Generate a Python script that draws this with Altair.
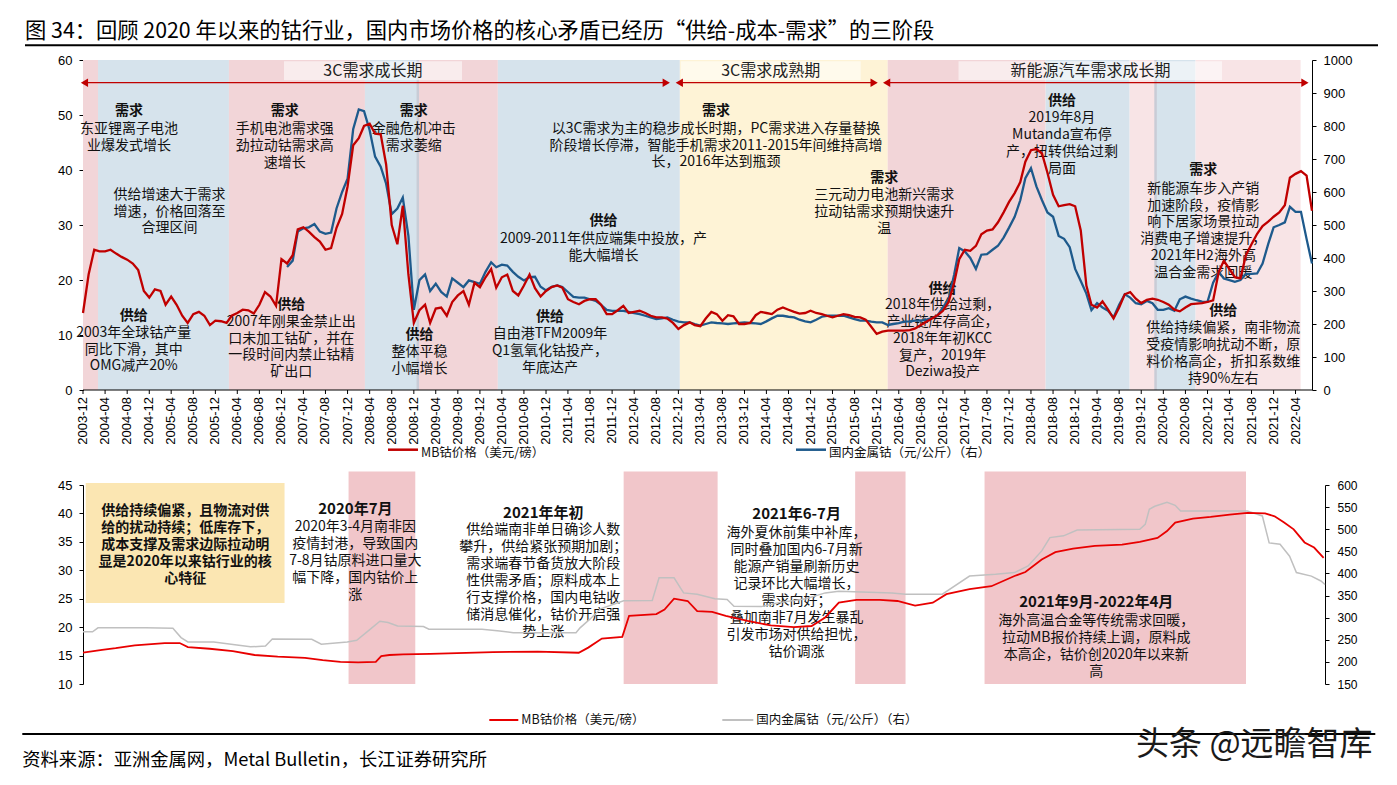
import altair as alt
import pandas as pd

# ===================== DATA =====================
# Top panel: monthly values starting 2003-12
mb_price_monthly = [
    14.0,
    21.0, 25.5, 25.2, 25.2, 25.5, 24.8, 24.2, 23.7, 23.0, 21.8, 18.0, 16.8,
    18.3, 18.0, 15.5, 17.0, 15.5, 13.5, 12.2, 13.8, 14.2, 13.5, 11.8, 12.6,
    12.5, 12.2, 13.5, 14.0, 14.6, 14.5, 13.9, 15.5, 17.8, 17.0, 15.3, 23.8,
    23.0, 24.5, 29.2, 29.6, 28.8, 27.8, 27.0, 25.5, 25.8, 29.5, 32.0, 37.0,
    44.5, 45.8, 48.0, 48.4, 46.6, 46.5, 41.0, 30.0, 26.5, 33.5, 21.0, 12.2,
    14.5, 15.5, 12.2, 14.8, 15.0, 13.5, 16.0, 17.2, 18.0, 15.5, 19.5, 18.7,
    20.5, 22.0, 18.6, 20.5, 21.0, 18.0, 17.2, 19.0, 21.0, 18.5, 17.0, 18.0,
    18.7, 19.0, 18.6, 16.5, 16.0, 15.6, 16.2, 16.5, 16.5, 15.5, 13.8, 13.8,
    14.5, 15.3, 14.0, 14.2, 14.4, 14.0, 13.5, 13.2, 13.2, 13.0, 12.2, 11.1,
    11.8, 12.3, 11.8, 11.6, 13.0, 14.2, 13.8, 12.6, 13.6, 13.4, 12.0, 12.0,
    12.2, 13.6, 14.2, 14.0, 13.8, 14.6, 15.0, 14.6, 14.2, 13.9, 14.0, 14.4,
    14.0, 13.8, 13.5, 13.2, 13.5, 13.8, 13.6, 13.3, 13.2, 12.8, 11.5, 10.2,
    10.6, 10.8, 10.8, 10.8, 10.8, 10.9, 11.2, 11.8, 12.4, 13.0, 13.6, 14.4,
    16.0, 19.5, 23.8, 25.5, 25.3, 26.2, 28.3, 29.0, 29.2, 30.5, 32.3, 34.2,
    35.8, 37.8, 41.5, 43.6, 43.8, 43.0, 39.5, 35.5, 33.4, 33.6, 33.8, 33.4,
    29.0, 19.0, 15.5, 15.0, 16.1, 14.6, 13.0, 15.0, 17.4, 17.8, 16.6, 15.8,
    16.4, 16.6, 16.4, 16.0, 15.5, 14.6, 14.3, 15.0, 15.6, 15.7, 15.8, 16.0,
    16.3, 21.5, 23.5, 22.0, 20.5, 20.3, 24.5, 26.5, 28.4, 29.8, 30.6, 31.5,
    32.3, 33.6, 38.6, 39.3, 39.8, 39.0, 32.6,
]
# domestic metal cobalt, monthly starting 2007-01 (yuan/kg)
dom_metal_monthly = [
    373, 392, 480, 490, 493, 503, 480, 473, 477, 550, 600, 640,
    790, 850, 845, 787, 707, 677, 625, 533, 550, 583, 467, 243,
    333, 350, 300, 322, 297, 283, 338, 325, 312, 332, 327, 322,
    358, 387, 372, 380, 377, 358, 343, 332, 342, 343, 313, 302,
    313, 317, 312, 297, 282, 280, 280, 275, 270, 258, 243, 240,
    240, 240, 237, 233, 230, 225, 220, 215, 217, 220, 213, 207,
    205, 205, 200, 195, 200, 205, 203, 202, 200, 202, 203, 205,
    203, 202, 200, 208, 217, 225, 225, 222, 220, 213, 208, 205,
    213, 222, 225, 225, 225, 225, 220, 215, 210, 210, 207, 205,
    205, 197, 200, 203, 207, 208, 210, 210, 213, 218, 225, 250,
    275, 350, 430, 420, 400, 367, 410, 412, 425, 437, 462, 492,
    525, 575, 642, 672, 617, 575, 538, 525, 467, 458, 433, 367,
    330, 292, 242, 263, 250, 240, 220, 258, 290, 280, 263, 260,
    270, 263, 243, 243, 248, 240, 275, 283, 277, 272, 268, 267,
    325, 358, 338, 333, 328, 333, 352, 352, 353, 383, 442, 493,
    500, 508, 555, 540, 540, 458, 383,
]
top_tick_labels = [
    "2003-12", "2004-04", "2004-08", "2004-12", "2005-04", "2005-08", "2005-12",
    "2006-04", "2006-08", "2006-12", "2007-04", "2007-08", "2007-12",
    "2008-04", "2008-08", "2008-12", "2009-04", "2009-08", "2009-12",
    "2010-04", "2010-08", "2010-12", "2011-04", "2011-08", "2011-12",
    "2012-04", "2012-08", "2012-12", "2013-04", "2013-08", "2013-12",
    "2014-04", "2014-08", "2014-12", "2015-04", "2015-08", "2015-12",
    "2016-04", "2016-08", "2016-12", "2017-04", "2017-08", "2017-12",
    "2018-04", "2018-08", "2018-12", "2019-04", "2019-08", "2019-12",
    "2020-04", "2020-08", "2020-12", "2021-04", "2021-08", "2021-12", "2022-04",
]

# Bottom panel: MB price (USD/lb)
mb_b_dates = [
    "2020-01-01", "2020-01-15", "2020-01-25", "2020-02-08", "2020-03-01", "2020-03-12",
    "2020-03-18", "2020-04-03", "2020-04-20", "2020-05-06", "2020-05-23", "2020-06-12",
    "2020-06-25", "2020-07-08", "2020-07-21", "2020-08-03", "2020-08-07", "2020-08-13",
    "2020-08-23", "2020-09-12", "2020-10-28", "2020-11-30", "2020-12-30", "2021-01-06",
    "2021-01-16", "2021-01-31", "2021-02-05", "2021-02-25", "2021-03-03", "2021-03-10",
    "2021-03-20", "2021-03-27", "2021-04-07", "2021-04-17", "2021-05-03", "2021-05-20",
    "2021-06-06", "2021-06-19", "2021-06-29", "2021-07-09", "2021-07-22", "2021-08-08",
    "2021-08-21", "2021-09-03", "2021-09-16", "2021-09-26", "2021-10-13", "2021-10-29",
    "2021-11-15", "2021-11-23", "2021-12-05", "2021-12-15", "2021-12-28", "2022-01-13",
    "2022-02-02", "2022-02-15", "2022-02-28", "2022-03-07", "2022-03-13", "2022-03-26",
    "2022-04-08", "2022-04-22", "2022-05-05", "2022-05-18", "2022-05-25", "2022-06-01",
    "2022-06-08", "2022-06-16", "2022-06-23", "2022-06-30",
]
mb_b_values = [
    15.5, 16.0, 16.3, 16.8, 17.2, 17.2,
    16.5, 16.2, 15.8, 15.1, 14.8, 14.6,
    14.2, 13.9, 13.8, 13.9, 14.9, 15.1,
    15.2, 15.3, 15.6, 15.7, 15.5, 16.4,
    18.0, 18.3, 22.0, 22.3, 23.1, 25.0,
    24.6, 22.8, 22.7, 22.0, 21.1, 20.3,
    20.0, 20.2, 21.7, 24.3, 24.8, 24.8,
    24.6, 23.8, 24.3, 25.8, 26.7, 27.2,
    29.0, 29.7, 31.9, 33.2, 33.8, 34.3,
    34.5, 35.0, 35.7, 36.9, 38.4, 39.1,
    39.4, 39.8, 40.1, 40.0, 39.5, 38.4,
    37.2, 34.9, 34.0, 32.2,
]
# Bottom panel: domestic metal cobalt (yuan/kg)
dom_b_dates = [
    "2020-01-01", "2020-01-08", "2020-01-12", "2020-02-16", "2020-03-07", "2020-03-13",
    "2020-03-18", "2020-04-06", "2020-04-23", "2020-05-03", "2020-05-14", "2020-05-19",
    "2020-06-17", "2020-06-24", "2020-07-13", "2020-07-20", "2020-07-30", "2020-08-06",
    "2020-08-12", "2020-08-19", "2020-09-07", "2020-09-11", "2020-10-20", "2020-11-02",
    "2020-11-12", "2020-12-28", "2020-12-31", "2021-01-07", "2021-01-15", "2021-02-01",
    "2021-02-22", "2021-02-27", "2021-03-10", "2021-03-17", "2021-03-27", "2021-04-09",
    "2021-04-18", "2021-04-23", "2021-05-13", "2021-05-26", "2021-06-15", "2021-06-29",
    "2021-07-09", "2021-08-17", "2021-08-27", "2021-09-23", "2021-10-13", "2021-11-01",
    "2021-11-15", "2021-11-25", "2021-12-05", "2021-12-11", "2021-12-21", "2021-12-31",
    "2022-02-15", "2022-02-19", "2022-02-22", "2022-02-26", "2022-03-07", "2022-03-13",
    "2022-03-17", "2022-05-05", "2022-05-16", "2022-05-21", "2022-05-29", "2022-06-05",
    "2022-06-10", "2022-06-21", "2022-06-28", "2022-07-01",
]
dom_b_values = [
    268, 268, 277, 277, 276, 255,
    245, 245, 238, 234, 236, 252,
    251, 240, 245, 249, 274, 292,
    289, 281, 280, 274, 274, 270,
    266, 266, 277, 296, 320, 338,
    339, 390, 390, 356, 353, 343,
    341, 326, 325, 334, 343, 356,
    360, 356, 353, 353, 394, 398,
    402, 417, 451, 481, 485, 498,
    500, 511, 545, 552, 561, 554,
    541, 541, 530, 469, 466, 439,
    402, 394, 383, 375,
]

# Shaded phases (top) and highlight windows (bottom)
top_phase_start = ["2003-12-01", "2004-02-22", "2006-02-14", "2008-03-06", "2008-12-23", "2010-03-10",
                   "2012-12-09", "2016-01-31", "2018-06-21", "2019-09-28", "2020-02-18", "2020-09-26"]
top_phase_end = ["2004-02-22", "2006-02-14", "2008-03-06", "2008-12-23", "2010-03-10", "2012-12-09",
                 "2016-01-31", "2018-06-21", "2019-09-28", "2020-02-18", "2020-09-26", "2022-04-29"]
top_phase_fill = ["#F2D5D8", "#D6E3EC", "#F2D5D8", "#D6E3EC", "#F2D5D8", "#D6E3EC",
                  "#FEF3D6", "#F2D5D8", "#D6E3EC", "#F8E4E6", "#D6E3EC", "#F8E4E6"]
top_phase_seams = ["2008-12-23", "2020-02-18"]
bot_hl_start = ["2020-07-14", "2021-02-01", "2021-07-21", "2021-10-24"]
bot_hl_end = ["2020-09-01", "2021-04-11", "2021-08-27", "2022-05-04"]

stage_labels = ["3C需求成长期", "3C需求成熟期", "新能源汽车需求成长期"]
stage_center = ["2008-04-19", "2014-04-25", "2019-02-24"]
stage_box_start = ["2006-12-15", "2012-12-14", "2017-02-25"]
stage_box_end = ["2009-08-24", "2015-09-04", "2021-02-19"]

# ===================== LAYOUT CONSTANTS =====================
W1, H1 = 1229, 330
X1, Y1 = 80, 59.3
W2, H2 = 1242, 199
X2, Y2 = 82.7, 484
CJK = "Noto Sans CJK SC"
LAT = "Liberation Sans"
RED_T = "#C00000"
BLUE_T = "#1E5A8C"
RED_B = "#E80000"
GRAY_B = "#C0C0C0"


def month_seq(y, m, n):
    out = []
    for i in range(n):
        yy = y + (m - 1 + i) // 12
        mm = (m - 1 + i) % 12 + 1
        out.append(f"{yy:04d}-{mm:02d}-01T00:00:00")
    return out


def t(s):
    return s + "T00:00:00" if len(s) == 10 else s


one = pd.DataFrame({"k": [0]})


def prule(x1, x2, y, color, width, opacity=1.0):
    return alt.Chart(one).mark_rule(color=color, strokeWidth=width, opacity=opacity).encode(
        x=alt.value(x1), x2=alt.value(x2), y=alt.value(y))


def ptext(x, y, s, size, align="left", weight="normal", color="#111", font=CJK):
    return alt.Chart(one).mark_text(font=font, fontSize=size, fontWeight=weight, align=align,
                                    baseline="middle", color=color).encode(
        x=alt.value(x), y=alt.value(y), text=alt.value(s))


# ===================== TOP PANEL =====================
xs_top = alt.Scale(domain=[alt.DateTime(year=2003, month=12, date=1),
                           alt.DateTime(year=2022, month=7, date=1)], nice=False)

mb_df = pd.DataFrame({"d": month_seq(2003, 12, len(mb_price_monthly)), "v": mb_price_monthly})
dom_df = pd.DataFrame({"d": month_seq(2007, 1, len(dom_metal_monthly)), "v": dom_metal_monthly})

reg_df = pd.DataFrame({"s": [t(a) for a in top_phase_start], "e": [t(a) for a in top_phase_end],
                       "f": top_phase_fill})
regions = alt.Chart(reg_df).mark_rect().encode(
    x=alt.X("s:T", scale=xs_top, axis=None), x2="e:T",
    y=alt.value(0), y2=alt.value(H1), color=alt.Color("f:N", scale=None))
seams = alt.Chart(pd.DataFrame({"d": [t(a) for a in top_phase_seams]})).mark_rule(
    color="#C9CCD6", strokeWidth=2.5).encode(
    x=alt.X("d:T", scale=xs_top, axis=None), y=alt.value(0), y2=alt.value(H1))

# x axis of the top panel: ticks + vertical labels placed through the time scale
tick_df = pd.DataFrame({"d": [lab + "-01T00:00:00" for lab in top_tick_labels], "lab": top_tick_labels})
x_ticks = alt.Chart(tick_df).mark_rule(color="black", strokeWidth=1).encode(
    x=alt.X("d:T", scale=xs_top, axis=None), y=alt.value(H1), y2=alt.value(H1 + 4))
x_labels = alt.Chart(tick_df).mark_text(font=LAT, fontSize=13, angle=270, align="right",
                                        baseline="middle", color="black").encode(
    x=alt.X("d:T", scale=xs_top, axis=None), y=alt.value(H1 + 7), text="lab:N")

stage_df = pd.DataFrame({"s": [t(a) for a in stage_box_start], "e": [t(a) for a in stage_box_end],
                         "c": [t(a) for a in stage_center], "lab": stage_labels})
stage_boxes = alt.Chart(stage_df).mark_rect(fill="white", opacity=0.55).encode(
    x=alt.X("s:T", scale=xs_top, axis=None), x2="e:T",
    y=alt.value(60.5 - Y1), y2=alt.value(79.5 - Y1))
stage_text = alt.Chart(stage_df).mark_text(font=CJK, fontSize=16, color="#222", baseline="middle").encode(
    x=alt.X("c:T", scale=xs_top, axis=None), y=alt.value(70 - Y1), text="lab:N")

arrow_df = pd.DataFrame({"s": [t("2003-12-01"), t("2012-12-01"), t("2016-01-20")],
                         "e": [t("2012-10-01"), t("2015-11-25"), t("2022-05-30")]})
arrows = alt.Chart(arrow_df).mark_rule(color=RED_T, strokeWidth=1.2).encode(
    x=alt.X("s:T", scale=xs_top, axis=None), x2="e:T", y=alt.value(82 - Y1))
headL = alt.Chart(pd.DataFrame({"d": [t("2003-12-09"), t("2012-12-06"), t("2016-01-25")]})).mark_point(
    shape="triangle-left", filled=True, size=70, color=RED_T, opacity=1).encode(
    x=alt.X("d:T", scale=xs_top, axis=None), y=alt.value(82 - Y1))
headR = alt.Chart(pd.DataFrame({"d": [t("2012-09-25"), t("2015-11-17"), t("2022-05-23")]})).mark_point(
    shape="triangle-right", filled=True, size=70, color=RED_T, opacity=1).encode(
    x=alt.X("d:T", scale=xs_top, axis=None), y=alt.value(82 - Y1))

top_bold = [
    ("2004-08-11", 109.3, "需求"), ("2004-09-06", 314.3, "供给"),
    ("2006-12-19", 109.3, "需求"), ("2007-01-24", 303.3, "供给"),
    ("2008-11-30", 109.3, "需求"), ("2009-01-01", 333.3, "供给"),
    ("2013-06-27", 109.3, "需求"), ("2011-10-14", 219.0, "供给"),
    ("2010-12-23", 315.0, "供给"), ("2016-01-12", 176.0, "需求"),
    ("2016-11-29", 286.7, "供给"), ("2018-09-19", 99.0, "供给"),
    ("2020-11-08", 168.3, "需求"), ("2021-02-26", 309.3, "供给"),
]
top_body = [
    ("2004-08-11", 126.7, "东亚锂离子电池\n业爆发式增长"),
    ("2005-03-23", 192.7, "供给增速大于需求\n增速，价格回落至\n合理区间"),
    ("2004-09-06", 330.7, "2003年全球钴产量\n同比下滑，其中\nOMG减产20%"),
    ("2006-12-19", 127.0, "手机电池需求强\n劲拉动钴需求高\n速增长"),
    ("2007-01-24", 319.7, "2007年刚果金禁止出\n口未加工钴矿，并在\n一段时间内禁止钴精\n矿出口"),
    ("2008-11-30", 127.0, "金融危机冲击\n需求萎缩"),
    ("2009-01-01", 350.0, "整体平稳\n小幅增长"),
    ("2013-06-27", 126.7, "以3C需求为主的稳步成长时期，PC需求进入存量替换\n阶段增长停滞，智能手机需求2011-2015年间维持高增\n长，2016年达到瓶颈"),
    ("2011-10-14", 236.7, "2009-2011年供应端集中投放，产\n能大幅增长"),
    ("2010-12-23", 332.0, "自由港TFM2009年\nQ1氢氧化钴投产，\n年底达产"),
    ("2016-01-12", 193.0, "三元动力电池新兴需求\n拉动钴需求预期快速升\n温"),
    ("2016-11-29", 303.0, "2018年供给过剩，\n产业链库存高企，\n2018年年初KCC\n复产，2019年\nDeziwa投产"),
    ("2018-09-19", 116.0, "2019年8月\nMutanda宣布停\n产，扭转供给过剩\n局面"),
    ("2020-11-08", 186.7, "新能源车步入产销\n加速阶段，疫情影\n响下居家场景拉动\n消费电子增速提升，\n2021年H2海外高\n温合金需求回暖"),
    ("2021-02-26", 326.0, "供给持续偏紧，南非物流\n受疫情影响扰动不断，原\n料价格高企，折扣系数维\n持90%左右"),
]


def ann_layer(rows, xscale, y0, size, weight, lh):
    df = pd.DataFrame({"d": [t(r[0]) for r in rows],
                       "py": [r[1] - y0 + 0.38 * size for r in rows],
                       "tx": [r[2] for r in rows]})
    return alt.Chart(df).mark_text(font=CJK, fontSize=size, fontWeight=weight, align="center",
                                   baseline="alphabetic", lineBreak="\n", lineHeight=lh,
                                   color="#111").encode(
        x=alt.X("d:T", scale=xscale, axis=None),
        y=alt.Y("py:Q", scale=None, axis=None),
        text="tx:N")


top_bold_layer = ann_layer(top_bold, xs_top, Y1, 14, "bold", 17)
top_body_layer = ann_layer(top_body, xs_top, Y1, 14, "normal", 16.85)

red_top = alt.Chart(mb_df).mark_line(color=RED_T, strokeWidth=2.3).encode(
    x=alt.X("d:T", scale=xs_top, axis=None),
    y=alt.Y("v:Q", scale=alt.Scale(domain=[0, 60], nice=False, zero=False),
            axis=alt.Axis(orient="left", values=list(range(0, 61, 10)), title=None, labelFontSize=13,
                          labelFont=LAT, tickSize=4, labelPadding=7, grid=False, format="d",
                          domainColor="black", tickColor="black", labelColor="black")))
blue_top = alt.Chart(dom_df).mark_line(color=BLUE_T, strokeWidth=2.3).encode(
    x=alt.X("d:T", scale=xs_top, axis=None),
    y=alt.Y("v:Q", scale=alt.Scale(domain=[0, 1000], nice=False, zero=False),
            axis=alt.Axis(orient="right", values=list(range(0, 1001, 100)), title=None, format="d",
                          labelFontSize=13, labelFont=LAT, tickSize=4, labelPadding=7, grid=False,
                          domainColor="black", tickColor="black", labelColor="black")))

top = alt.layer(
    regions, seams, stage_boxes, stage_text, arrows, headL, headR,
    top_body_layer, top_bold_layer, blue_top, red_top,
    prule(0, W1, H1, "black", 1),
    x_ticks, x_labels,
    # legend
    prule(385 - X1, 415 - X1, 449 - Y1, RED_T, 2.5),
    ptext(418 - X1, 452 - Y1, "MB钴价格（美元/磅）", 12.5),
    prule(793 - X1, 823 - X1, 449 - Y1, BLUE_T, 2.5),
    ptext(826 - X1, 452 - Y1, "国内金属钴（元/公斤）（右）", 12.5),
    # figure title + underline
    ptext(22 - X1, 31 - Y1, "图 34：回顾 2020 年以来的钴行业，国内市场价格的核心矛盾已经历“供给-成本-需求”的三阶段", 21.3,
          color="#000"),
    prule(22 - X1, 1375 - X1, 44.5 - Y1, "#000", 2),
    # layout anchors (invisible)
    prule(8 - X1, 9 - X1, 8 - Y1, "#fff", 1, 0),
    prule(8 - X1, 9 - X1, 464 - Y1, "#fff", 1, 0),
).resolve_scale(y="independent").properties(width=W1, height=H1)

# ===================== BOTTOM PANEL =====================
xs_bot = alt.Scale(domain=[alt.DateTime(year=2020, month=1, date=1),
                           alt.DateTime(year=2022, month=7, date=1)], nice=False)
bot_ticks = [alt.DateTime(year=2020 + (2 * i) // 12, month=(2 * i) % 12 + 1, date=1) for i in range(16)]
bot_x_axis = alt.Axis(values=bot_ticks, format="%Y-%m", labelAngle=0, labelFontSize=12, labelFont=LAT,
                      tickSize=4, labelPadding=5, title=None, labelOverlap=False, labelFlush=False,
                      domainColor="black", tickColor="black", labelColor="black", grid=False,
                      zindex=1)

hl_df = pd.DataFrame({"s": [t(a) for a in bot_hl_start], "e": [t(a) for a in bot_hl_end]})
hl = alt.Chart(hl_df).mark_rect(color="#F1C6CA").encode(
    x=alt.X("s:T", scale=xs_bot, axis=None), x2="e:T",
    y=alt.value(470.5 - Y2), y2=alt.value(H2))

box_df = pd.DataFrame({"s": [t("2020-01-03")], "e": [t("2020-05-28")]})
ybox = alt.Chart(box_df).mark_rect(color="#FBE6B2").encode(
    x=alt.X("s:T", scale=xs_bot, axis=None), x2="e:T",
    y=alt.value(482 - Y2), y2=alt.value(602 - Y2))

box_text = [("2020-03-16", 509.0, "供给持续偏紧，且物流对供\n给的扰动持续；低库存下，\n成本支撑及需求边际拉动明\n显是2020年以来钴行业的核\n心特征")]
bot_bold = [
    ("2020-07-19", 507.0, "2020年7月"),
    ("2020-12-04", 511.7, "2021年年初"),
    ("2021-06-08", 512.7, "2021年6-7月"),
    ("2022-01-14", 600.7, "2021年9月-2022年4月"),
]
bot_body = [
    ("2020-07-19", 524.3, "2020年3-4月南非因\n疫情封港，导致国内\n7-8月钴原料进口量大\n幅下降，国内钴价上\n涨"),
    ("2020-12-04", 528.0, "供给端南非单日确诊人数\n攀升，供给紧张预期加剧；\n需求端春节备货放大阶段\n性供需矛盾；原料成本上\n行支撑价格，国内电钴收\n储消息催化，钴价开启强\n势上涨"),
    ("2021-06-08", 531.0, "海外夏休前集中补库，\n同时叠加国内6-7月新\n能源产销量刷新历史\n记录环比大幅增长，\n需求向好；\n叠加南非7月发生暴乱\n引发市场对供给担忧，\n钴价调涨"),
    ("2022-01-14", 618.3, "海外高温合金等传统需求回暖，\n拉动MB报价持续上调，原料成\n本高企，钴价创2020年以来新\n高"),
]

mbb_df = pd.DataFrame({"d": [t(a) for a in mb_b_dates], "v": mb_b_values})
domb_df = pd.DataFrame({"d": [t(a) for a in dom_b_dates], "v": dom_b_values})

red_bot = alt.Chart(mbb_df).mark_line(color=RED_B, strokeWidth=1.8).encode(
    x=alt.X("d:T", scale=xs_bot, axis=bot_x_axis),
    y=alt.Y("v:Q", scale=alt.Scale(domain=[10, 45], nice=False, zero=False),
            axis=alt.Axis(orient="left", values=list(range(10, 46, 5)), title=None, labelFontSize=13,
                          labelFont=LAT, tickSize=4, labelPadding=7, grid=False, format="d",
                          domainColor="black", tickColor="black", labelColor="black")))
gray_bot = alt.Chart(domb_df).mark_line(color=GRAY_B, strokeWidth=1.5).encode(
    x=alt.X("d:T", scale=xs_bot, axis=None),
    y=alt.Y("v:Q", scale=alt.Scale(domain=[150, 600], nice=False, zero=False),
            axis=alt.Axis(orient="right", values=list(range(150, 601, 50)), title=None, format="d",
                          labelFontSize=12, labelFont=LAT, tickSize=4, labelPadding=8, grid=False,
                          domainColor="black", tickColor="black", labelColor="black")))

bottom = alt.layer(
    hl, ybox,
    ann_layer(box_text, xs_bot, Y2, 14, "bold", 16.8),
    ann_layer(bot_bold, xs_bot, Y2, 15, "bold", 17),
    ann_layer(bot_body, xs_bot, Y2, 14, "normal", 17),
    gray_bot, red_bot,
    # legend
    prule(489 - X2, 518 - X2, 719 - Y2, RED_B, 2),
    ptext(521 - X2, 719 - Y2, "MB钴价格（美元/磅）", 12.5),
    prule(722 - X2, 753 - X2, 719 - Y2, GRAY_B, 2),
    ptext(756 - X2, 719 - Y2, "国内金属钴（元/公斤）（右）", 12.5),
    # separator, source, watermark
    prule(22 - X2, 1375 - X2, 733 - Y2, "#000", 2),
    ptext(22 - X2, 760 - Y2, "资料来源：亚洲金属网，Metal Bulletin，长江证券研究所", 18.3, color="#000"),
    ptext(1254 - X2, 744 - Y2, "头条 @远瞻智库", 33, align="center", color="#1a1a1a"),
    # layout anchors (invisible)
    prule(8 - X2, 9 - X2, 464 - Y2, "#fff", 1, 0),
    prule(8 - X2, 9 - X2, 784 - Y2, "#fff", 1, 0),
).resolve_scale(y="independent").properties(width=W2, height=H2)

chart = alt.vconcat(top, bottom, spacing=0).properties(
    padding={"left": 0, "top": 0, "right": 0, "bottom": 0}
).configure_view(stroke=None)

chart.save("out.html", embed_options={"renderer": "svg", "actions": False})
